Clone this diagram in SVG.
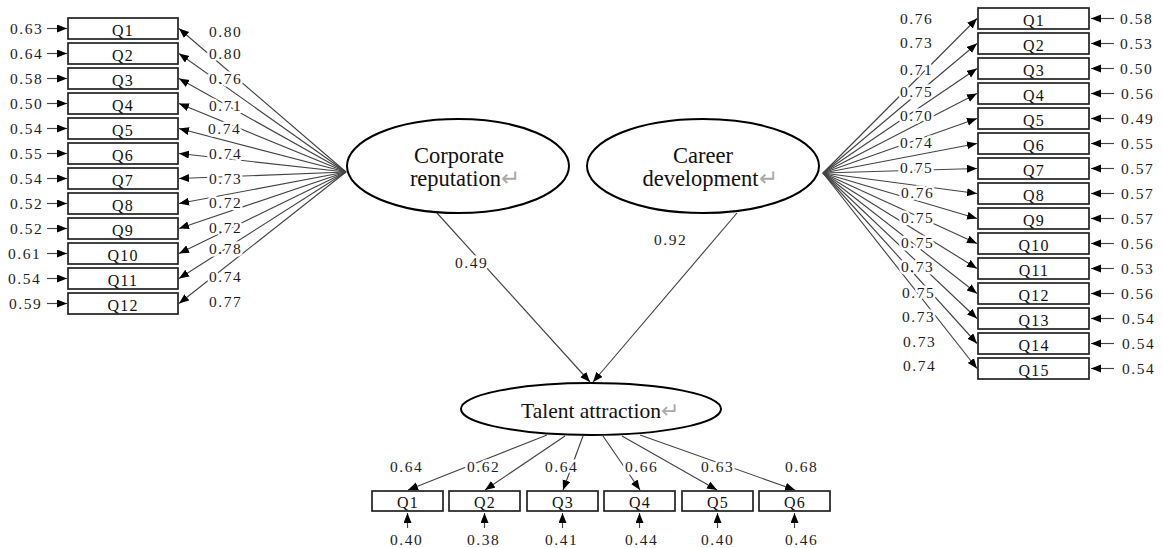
<svg xmlns="http://www.w3.org/2000/svg" width="1163" height="548" viewBox="0 0 1163 548">
<defs>
<marker id="ah" markerUnits="userSpaceOnUse" markerWidth="11" markerHeight="9" refX="10" refY="4" orient="auto">
<path d="M0,0 L10,4 L0,8 z" fill="#000"/>
</marker>
<style>
.ln{stroke:#444;stroke-width:1.15;fill:none;marker-end:url(#ah)}
.bx{fill:#fff;stroke:#222;stroke-width:1.7}
.el{fill:#fff;stroke:#000;stroke-width:2}
.t{font-family:"Liberation Serif","Times New Roman",serif;font-size:15.5px;fill:#1c1c28;letter-spacing:1.5px}
.q{font-family:"Liberation Serif","Times New Roman",serif;font-size:16px;fill:#111;letter-spacing:1.2px;text-anchor:middle}
.h{paint-order:stroke;stroke:#fff;stroke-width:5px;stroke-linejoin:round}
.big{font-family:"Liberation Serif","Times New Roman",serif;fill:#111;text-anchor:middle}
.rt{fill:#aaa}
</style>
</defs>
<rect width="1163" height="548" fill="#fff"/>

<g id="connectors">
<line class="ln" x1="346" y1="172" x2="179" y2="28.5"/>
<line class="ln" x1="346" y1="172" x2="179" y2="53.5"/>
<line class="ln" x1="346" y1="172" x2="179" y2="78.5"/>
<line class="ln" x1="346" y1="172" x2="179" y2="103.5"/>
<line class="ln" x1="346" y1="172" x2="179" y2="128.5"/>
<line class="ln" x1="346" y1="172" x2="179" y2="153.5"/>
<line class="ln" x1="346" y1="172" x2="179" y2="178.5"/>
<line class="ln" x1="346" y1="172" x2="179" y2="203.5"/>
<line class="ln" x1="346" y1="172" x2="179" y2="228.5"/>
<line class="ln" x1="346" y1="172" x2="179" y2="253.5"/>
<line class="ln" x1="346" y1="172" x2="179" y2="278.5"/>
<line class="ln" x1="346" y1="172" x2="179" y2="303.5"/>
<line class="ln" x1="47" y1="28.5" x2="67" y2="28.5"/>
<line class="ln" x1="47" y1="53.5" x2="67" y2="53.5"/>
<line class="ln" x1="47" y1="78.5" x2="67" y2="78.5"/>
<line class="ln" x1="47" y1="103.5" x2="67" y2="103.5"/>
<line class="ln" x1="47" y1="128.5" x2="67" y2="128.5"/>
<line class="ln" x1="47" y1="153.5" x2="67" y2="153.5"/>
<line class="ln" x1="47" y1="178.5" x2="67" y2="178.5"/>
<line class="ln" x1="47" y1="203.5" x2="67" y2="203.5"/>
<line class="ln" x1="47" y1="228.5" x2="67" y2="228.5"/>
<line class="ln" x1="47" y1="253.5" x2="67" y2="253.5"/>
<line class="ln" x1="47" y1="278.5" x2="67" y2="278.5"/>
<line class="ln" x1="47" y1="303.5" x2="67" y2="303.5"/>
<line class="ln" x1="823" y1="173" x2="977" y2="18.5"/>
<line class="ln" x1="823" y1="173" x2="977" y2="43.5"/>
<line class="ln" x1="823" y1="173" x2="977" y2="68.5"/>
<line class="ln" x1="823" y1="173" x2="977" y2="93.5"/>
<line class="ln" x1="823" y1="173" x2="977" y2="118.5"/>
<line class="ln" x1="823" y1="173" x2="977" y2="143.5"/>
<line class="ln" x1="823" y1="173" x2="977" y2="168.5"/>
<line class="ln" x1="823" y1="173" x2="977" y2="193.5"/>
<line class="ln" x1="823" y1="173" x2="977" y2="218.5"/>
<line class="ln" x1="823" y1="173" x2="977" y2="243.5"/>
<line class="ln" x1="823" y1="173" x2="977" y2="268.5"/>
<line class="ln" x1="823" y1="173" x2="977" y2="293.5"/>
<line class="ln" x1="823" y1="173" x2="977" y2="318.5"/>
<line class="ln" x1="823" y1="173" x2="977" y2="343.5"/>
<line class="ln" x1="823" y1="173" x2="977" y2="368.5"/>
<line class="ln" x1="1114" y1="18.5" x2="1091" y2="18.5"/>
<line class="ln" x1="1114" y1="43.5" x2="1091" y2="43.5"/>
<line class="ln" x1="1114" y1="68.5" x2="1091" y2="68.5"/>
<line class="ln" x1="1114" y1="93.5" x2="1091" y2="93.5"/>
<line class="ln" x1="1114" y1="118.5" x2="1091" y2="118.5"/>
<line class="ln" x1="1114" y1="143.5" x2="1091" y2="143.5"/>
<line class="ln" x1="1114" y1="168.5" x2="1091" y2="168.5"/>
<line class="ln" x1="1114" y1="193.5" x2="1091" y2="193.5"/>
<line class="ln" x1="1114" y1="218.5" x2="1091" y2="218.5"/>
<line class="ln" x1="1114" y1="243.5" x2="1091" y2="243.5"/>
<line class="ln" x1="1114" y1="268.5" x2="1091" y2="268.5"/>
<line class="ln" x1="1114" y1="293.5" x2="1091" y2="293.5"/>
<line class="ln" x1="1114" y1="318.5" x2="1091" y2="318.5"/>
<line class="ln" x1="1114" y1="343.5" x2="1091" y2="343.5"/>
<line class="ln" x1="1114" y1="368.5" x2="1091" y2="368.5"/>
<line class="ln" x1="437" y1="213" x2="590" y2="382"/>
<line class="ln" x1="737" y1="213" x2="593" y2="382"/>
<line class="ln" x1="547" y1="435" x2="408" y2="490"/>
<line class="ln" x1="565" y1="436" x2="485" y2="490"/>
<line class="ln" x1="583" y1="436" x2="563" y2="490"/>
<line class="ln" x1="603" y1="436" x2="640" y2="490"/>
<line class="ln" x1="622" y1="436" x2="717" y2="490"/>
<line class="ln" x1="640" y1="435" x2="795" y2="490"/>
<line class="ln" x1="407.5" y1="528" x2="407.5" y2="513"/>
<line class="ln" x1="484.5" y1="528" x2="484.5" y2="513"/>
<line class="ln" x1="562.5" y1="528" x2="562.5" y2="513"/>
<line class="ln" x1="639.5" y1="528" x2="639.5" y2="513"/>
<line class="ln" x1="717.5" y1="528" x2="717.5" y2="513"/>
<line class="ln" x1="794.5" y1="528" x2="794.5" y2="513"/>
</g>

<g id="labels">
<text class="t h" x="209" y="37">0.80</text>
<text class="t h" x="209" y="59">0.80</text>
<text class="t h" x="209" y="84">0.76</text>
<text class="t h" x="209" y="111">0.71</text>
<text class="t h" x="208" y="134">0.74</text>
<text class="t h" x="209" y="159">0.74</text>
<text class="t h" x="209" y="184">0.73</text>
<text class="t h" x="209" y="208">0.72</text>
<text class="t h" x="209" y="233">0.72</text>
<text class="t h" x="209" y="254">0.78</text>
<text class="t h" x="209" y="282">0.74</text>
<text class="t h" x="209" y="307">0.77</text>
<text class="t" x="10" y="33.5">0.63</text>
<text class="t" x="10" y="58.5">0.64</text>
<text class="t" x="10" y="83.5">0.58</text>
<text class="t" x="10" y="108.5">0.50</text>
<text class="t" x="10" y="133.5">0.54</text>
<text class="t" x="10" y="158.5">0.55</text>
<text class="t" x="10" y="183.5">0.54</text>
<text class="t" x="10" y="208.5">0.52</text>
<text class="t" x="10" y="233.5">0.52</text>
<text class="t" x="8" y="258.5">0.61</text>
<text class="t" x="8" y="283.5">0.54</text>
<text class="t" x="9" y="308.5">0.59</text>
<text class="t h" x="900" y="24">0.76</text>
<text class="t h" x="900" y="48">0.73</text>
<text class="t h" x="900" y="75">0.71</text>
<text class="t h" x="900" y="97">0.75</text>
<text class="t h" x="900" y="121">0.70</text>
<text class="t h" x="900" y="148">0.74</text>
<text class="t h" x="900" y="173">0.75</text>
<text class="t h" x="901" y="198">0.76</text>
<text class="t h" x="901" y="223">0.75</text>
<text class="t h" x="901" y="248">0.75</text>
<text class="t h" x="901" y="272">0.73</text>
<text class="t h" x="902" y="298">0.75</text>
<text class="t h" x="902" y="322">0.73</text>
<text class="t h" x="903" y="347">0.73</text>
<text class="t h" x="903" y="371">0.74</text>
<text class="t" x="1120" y="23.5">0.58</text>
<text class="t" x="1120" y="48.5">0.53</text>
<text class="t" x="1120" y="73.5">0.50</text>
<text class="t" x="1121" y="98.5">0.56</text>
<text class="t" x="1121" y="123.5">0.49</text>
<text class="t" x="1121" y="148.5">0.55</text>
<text class="t" x="1121" y="173.5">0.57</text>
<text class="t" x="1121" y="198.5">0.57</text>
<text class="t" x="1121" y="223.5">0.57</text>
<text class="t" x="1121" y="248.5">0.56</text>
<text class="t" x="1121" y="273.5">0.53</text>
<text class="t" x="1121" y="298.5">0.56</text>
<text class="t" x="1122" y="323.5">0.54</text>
<text class="t" x="1122" y="348.5">0.54</text>
<text class="t" x="1122" y="373.5">0.54</text>
<text class="t h" x="455" y="268">0.49</text>
<text class="t h" x="654" y="245">0.92</text>
<text class="t h" x="390" y="472">0.64</text>
<text class="t h" x="467" y="472">0.62</text>
<text class="t h" x="545" y="472">0.64</text>
<text class="t h" x="625" y="472">0.66</text>
<text class="t h" x="701" y="472">0.63</text>
<text class="t h" x="785" y="472">0.68</text>
<text class="t" x="390" y="545">0.40</text>
<text class="t" x="467" y="545">0.38</text>
<text class="t" x="545" y="545">0.41</text>
<text class="t" x="625" y="545">0.44</text>
<text class="t" x="701" y="545">0.40</text>
<text class="t" x="785" y="545">0.46</text>
</g>

<g id="corporate-reputation">
<ellipse class="el" cx="458" cy="166" rx="111" ry="47"/>
<text class="big" x="459" y="163" font-size="22.5">Corporate</text>
<text class="big" x="465" y="186" font-size="22.5">reputation<tspan class="rt">↵</tspan></text>
</g>
<g id="career-development">
<ellipse class="el" cx="703" cy="166" rx="116" ry="47"/>
<text class="big" x="703" y="163" font-size="22.5">Career</text>
<text class="big" x="710" y="186" font-size="22.5">development<tspan class="rt">↵</tspan></text>
</g>
<g id="talent-attraction">
<ellipse class="el" cx="591" cy="409" rx="130" ry="26"/>
<text class="big" x="600" y="418" font-size="21.5">Talent attraction<tspan class="rt">↵</tspan></text>
</g>

<g id="cr-items">
<g id="cr-q1"><rect class="bx" x="68" y="18" width="110" height="21"/><text class="q" x="123" y="36">Q1</text></g>
<g id="cr-q2"><rect class="bx" x="68" y="43" width="110" height="21"/><text class="q" x="123" y="61">Q2</text></g>
<g id="cr-q3"><rect class="bx" x="68" y="68" width="110" height="21"/><text class="q" x="123" y="86">Q3</text></g>
<g id="cr-q4"><rect class="bx" x="68" y="93" width="110" height="21"/><text class="q" x="123" y="111">Q4</text></g>
<g id="cr-q5"><rect class="bx" x="68" y="118" width="110" height="21"/><text class="q" x="123" y="136">Q5</text></g>
<g id="cr-q6"><rect class="bx" x="68" y="143" width="110" height="21"/><text class="q" x="123" y="161">Q6</text></g>
<g id="cr-q7"><rect class="bx" x="68" y="168" width="110" height="21"/><text class="q" x="123" y="186">Q7</text></g>
<g id="cr-q8"><rect class="bx" x="68" y="193" width="110" height="21"/><text class="q" x="123" y="211">Q8</text></g>
<g id="cr-q9"><rect class="bx" x="68" y="218" width="110" height="21"/><text class="q" x="123" y="236">Q9</text></g>
<g id="cr-q10"><rect class="bx" x="68" y="243" width="110" height="21"/><text class="q" x="123" y="261">Q10</text></g>
<g id="cr-q11"><rect class="bx" x="68" y="268" width="110" height="21"/><text class="q" x="123" y="286">Q11</text></g>
<g id="cr-q12"><rect class="bx" x="68" y="293" width="110" height="21"/><text class="q" x="123" y="311">Q12</text></g>
</g>

<g id="cd-items">
<g id="cd-q1"><rect class="bx" x="978" y="8" width="111" height="21"/><text class="q" x="1034" y="26">Q1</text></g>
<g id="cd-q2"><rect class="bx" x="978" y="33" width="111" height="21"/><text class="q" x="1034" y="51">Q2</text></g>
<g id="cd-q3"><rect class="bx" x="978" y="58" width="111" height="21"/><text class="q" x="1034" y="76">Q3</text></g>
<g id="cd-q4"><rect class="bx" x="978" y="83" width="111" height="21"/><text class="q" x="1034" y="101">Q4</text></g>
<g id="cd-q5"><rect class="bx" x="978" y="108" width="111" height="21"/><text class="q" x="1034" y="126">Q5</text></g>
<g id="cd-q6"><rect class="bx" x="978" y="133" width="111" height="21"/><text class="q" x="1034" y="151">Q6</text></g>
<g id="cd-q7"><rect class="bx" x="978" y="158" width="111" height="21"/><text class="q" x="1034" y="176">Q7</text></g>
<g id="cd-q8"><rect class="bx" x="978" y="183" width="111" height="21"/><text class="q" x="1034" y="201">Q8</text></g>
<g id="cd-q9"><rect class="bx" x="978" y="208" width="111" height="21"/><text class="q" x="1034" y="226">Q9</text></g>
<g id="cd-q10"><rect class="bx" x="978" y="233" width="111" height="21"/><text class="q" x="1034" y="251">Q10</text></g>
<g id="cd-q11"><rect class="bx" x="978" y="258" width="111" height="21"/><text class="q" x="1034" y="276">Q11</text></g>
<g id="cd-q12"><rect class="bx" x="978" y="283" width="111" height="21"/><text class="q" x="1034" y="301">Q12</text></g>
<g id="cd-q13"><rect class="bx" x="978" y="308" width="111" height="21"/><text class="q" x="1034" y="326">Q13</text></g>
<g id="cd-q14"><rect class="bx" x="978" y="333" width="111" height="21"/><text class="q" x="1034" y="351">Q14</text></g>
<g id="cd-q15"><rect class="bx" x="978" y="358" width="111" height="21"/><text class="q" x="1034" y="376">Q15</text></g>
</g>

<g id="ta-items">
<g id="ta-q1"><rect class="bx" x="372" y="491" width="71" height="20"/><text class="q" x="408" y="508">Q1</text></g>
<g id="ta-q2"><rect class="bx" x="449" y="491" width="71" height="20"/><text class="q" x="485" y="508">Q2</text></g>
<g id="ta-q3"><rect class="bx" x="527" y="491" width="71" height="20"/><text class="q" x="563" y="508">Q3</text></g>
<g id="ta-q4"><rect class="bx" x="604" y="491" width="71" height="20"/><text class="q" x="640" y="508">Q4</text></g>
<g id="ta-q5"><rect class="bx" x="682" y="491" width="71" height="20"/><text class="q" x="718" y="508">Q5</text></g>
<g id="ta-q6"><rect class="bx" x="759" y="491" width="71" height="20"/><text class="q" x="795" y="508">Q6</text></g>
</g>
</svg>
